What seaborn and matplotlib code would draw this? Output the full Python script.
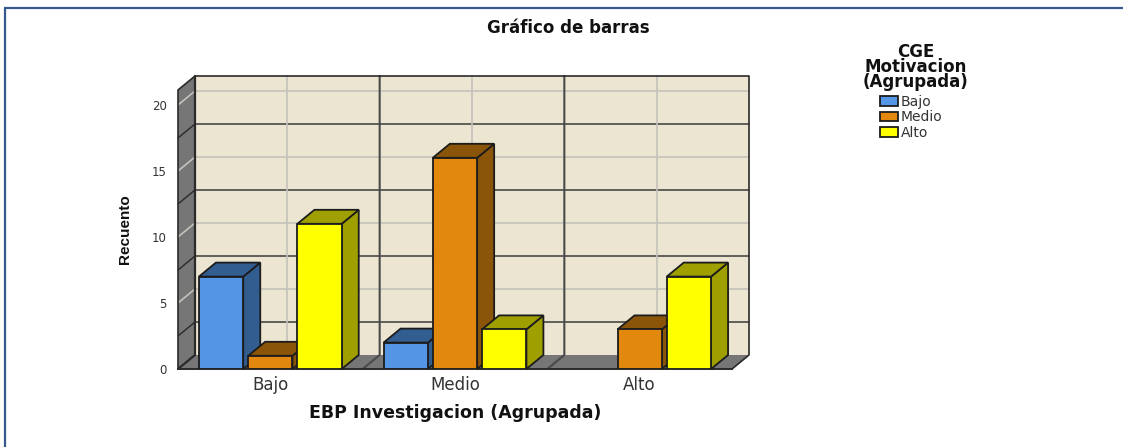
import matplotlib
matplotlib.use("Agg")
import matplotlib.pyplot as plt
from matplotlib.lines import Line2D
from matplotlib.patches import Polygon
from matplotlib.transforms import IdentityTransform
import pandas as pd
import seaborn as sns

# values
categories = ["Bajo", "Medio", "Alto"]
levels = ["Bajo", "Medio", "Alto"]
recuento_bajo = [7, 2, 0]
recuento_medio = [1, 16, 3]
recuento_alto = [11, 3, 7]

front_colors = ["#5595e6", "#e2880e", "#ffff00"]
shade_colors = ["#325d91", "#8a5508", "#9f9f00"]
wall = "#767676"
paper = "#ebe5d2"
edge = "#1c1c1c"
light_line = "#c4c2ba"
dark_line = "#2a2a2a"
text_grey = "#333333"

W, H = 1123, 447
left, right, base, top = 178, 732, 369, 90  # front plane, pixels
dx, dy = 17, 14  # depth of the 3d effect
ymax = (base - top) / 13.2

df = pd.DataFrame({
    "cat": categories * 3,
    "nivel": [l for l in levels for _ in categories],
    "n": recuento_bajo + recuento_medio + recuento_alto,
})

sns.set_theme(style="white")
plt.rcParams["font.family"] = ["DejaVu Sans"]
fig = plt.figure(figsize=(W / 100, H / 100), dpi=100, facecolor="white")
ax = fig.add_axes([left / W, 1 - base / H, (right - left) / W, (base - top) / H])
ax.patch.set_visible(False)


def px(points):
    return [(x / W, 1 - y / H) for x, y in points]


def fig_poly(points, color):
    fig.add_artist(Polygon(px(points), closed=True, facecolor=color, edgecolor="none", zorder=-5))


def fig_line(xs, ys, color, lw=1.2, z=-4):
    fig.add_artist(Line2D([x / W for x in xs], [1 - y / H for y in ys], color=color, lw=lw, zorder=z))


# outer border
fig_line([4.5, W], [7.5, 7.5], "#35588f", lw=1.6)
fig_line([4.5, 4.5], [7.5, H], "#35588f", lw=1.6)

# walls and floor
fig_poly([(left + dx, top - dy), (right + dx, top - dy), (right + dx, base - dy), (left + dx, base - dy)], paper)
fig_poly([(left, base), (left + dx, base - dy), (left + dx, top - dy), (left, top)], wall)
fig_poly([(left, base), (left + dx, base - dy), (right + dx, base - dy), (right, base)], wall)

# horizontal grid on back and side wall
for v in [5, 10, 15, 20, 2.5, 7.5, 12.5, 17.5]:
    y = base - v * 13.2
    c = light_line if v % 5 == 0 else dark_line
    fig_line([left, left + dx, right + dx], [y, y - dy, y - dy], c, lw=1.2 if v % 5 == 0 else 1.0)

# vertical grid, group bounds and centres
group_w = (right - left) / 3
for i in range(3):
    x = left + group_w * (i + 0.5)
    fig_line([x + dx, x + dx], [top - dy, base - dy], light_line, lw=1.2)
for i in range(1, 3):
    x = left + group_w * i
    fig_line([x, x + dx, x + dx], [base, base - dy, top - dy], "#4a4a4a", lw=1.5)

# wall outlines
fig_line([left, left, left + dx, right + dx, right + dx, right], [base, top, top - dy, top - dy, base - dy, base], dark_line)
fig_line([left, left + dx, left + dx], [base, base - dy, top - dy], dark_line, lw=1.6)

sns.barplot(data=df, x="cat", y="n", hue="nivel", order=categories, hue_order=levels,
            palette=front_colors, width=0.8, gap=0.1, saturation=1, ax=ax,
            edgecolor=edge, linewidth=1.3)
ax.set_ylim(0, ymax)
ax.set_xlim(-0.5, 2.5)
ax.set_yticks([0, 5, 10, 15, 20])

# extrude the seaborn bars
for z, (cont, shade) in enumerate(zip(ax.containers, shade_colors)):
    for bar in cont:
        if bar.get_height() == 0:
            bar.set_visible(False)
            continue
        bar.set_zorder(5 + z)
        (x0, y0), (x1, y1) = ax.transData.transform(
            [(bar.get_x(), 0), (bar.get_x() + bar.get_width(), bar.get_height())])
        side = [(x1, y0), (x1 + dx, y0 + dy), (x1 + dx, y1 + dy), (x1, y1)]
        cap = [(x0, y1), (x0 + dx, y1 + dy), (x1 + dx, y1 + dy), (x1, y1)]
        for pts in (side, cap):
            ax.add_patch(Polygon(pts, closed=True, transform=IdentityTransform(), facecolor=shade,
                                 edgecolor=edge, linewidth=1.3, clip_on=False, zorder=4.5 + z))

sns.despine(ax=ax, left=True)
ax.spines["bottom"].set_color(dark_line)
ax.spines["bottom"].set_linewidth(1.4)
ax.tick_params(axis="both", length=0)
ax.tick_params(axis="y", labelsize=8.5, labelcolor=text_grey, pad=8)
ax.tick_params(axis="x", labelsize=12, labelcolor=text_grey, pad=5)
ax.set_xlabel("EBP Investigacion (Agrupada)", fontsize=12.5, fontweight="bold", color="#111111", labelpad=7)
ax.set_ylabel("")
fig.text(125 / W, 1 - 229 / H, "Recuento", rotation=90, ha="center", va="center",
         family=["Liberation Sans"], fontsize=11, fontweight="bold", color="#111111")
fig.text(568.5 / W, 1 - 28 / H, "Gráfico de barras", ha="center", va="center",
         fontsize=12, fontweight="bold", color="#111111")

sns.move_legend(ax, "upper left", bbox_to_anchor=(880 / W, 1 - 95 / H), bbox_transform=fig.transFigure,
                title=None, frameon=False, fontsize=10, labelcolor=text_grey, borderpad=0, borderaxespad=0,
                handlelength=1.3, handleheight=0.7, handletextpad=0.2, labelspacing=0.1)
fig.text(916 / W, 1 - 67 / H, "CGE\nMotivacion\n(Agrupada)", ha="center", va="center",
         fontsize=12, fontweight="bold", color="#111111", linespacing=0.82)

fig.savefig("out.png", dpi=100)
